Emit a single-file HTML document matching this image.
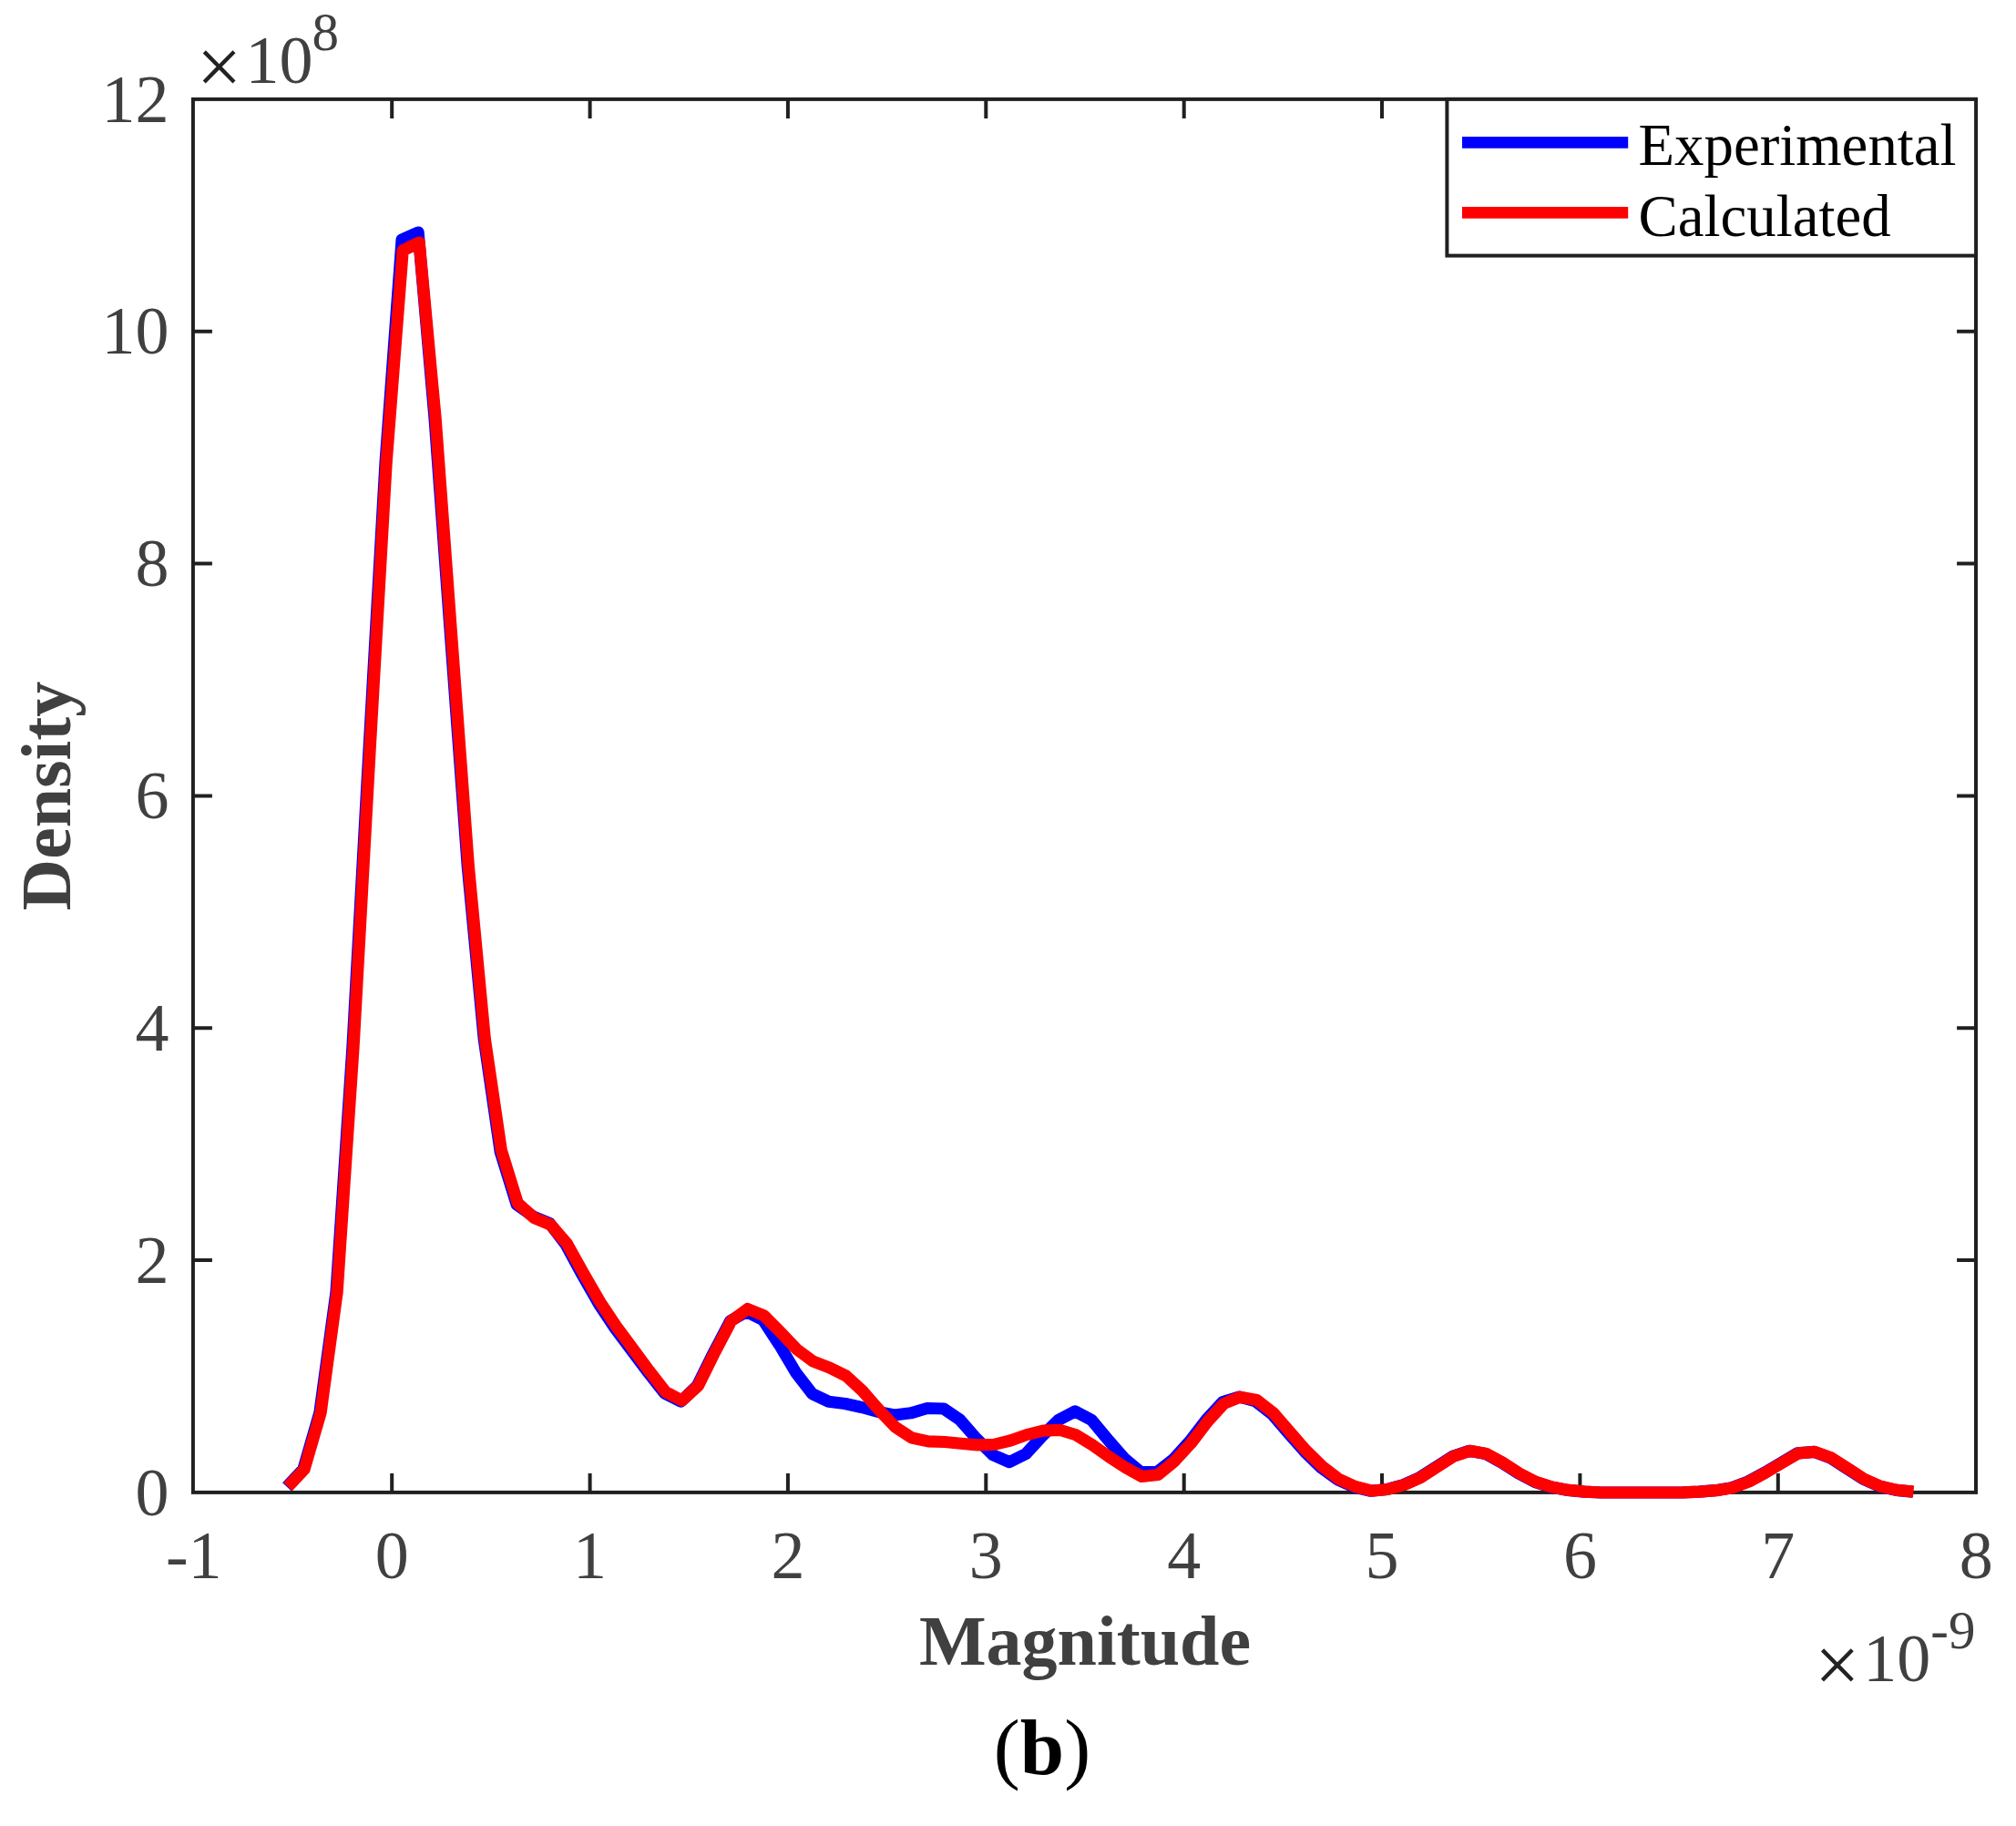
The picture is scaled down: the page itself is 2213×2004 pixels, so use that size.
<!DOCTYPE html>
<html><head><meta charset="utf-8"><title>Density plot (b)</title>
<style>html,body{margin:0;padding:0;background:#fff}svg{display:block}text{font-family:"Liberation Serif",serif}</style></head><body>
<svg width="2213" height="2004" viewBox="0 0 2213 2004">
<rect width="2213" height="2004" fill="#fff"/>
<rect x="211.9" y="108.9" width="1957.1" height="1529.0" fill="none" stroke="#202020" stroke-width="4"/>
<path d="M430.2,1637.9 v-21 M430.2,108.9 v21 M647.6,1637.9 v-21 M647.6,108.9 v21 M864.9,1637.9 v-21 M864.9,108.9 v21 M1082.3,1637.9 v-21 M1082.3,108.9 v21 M1299.7,1637.9 v-21 M1299.7,108.9 v21 M1517.0,1637.9 v-21 M1517.0,108.9 v21 M1734.4,1637.9 v-21 M1734.4,108.9 v21 M1951.8,1637.9 v-21 M1951.8,108.9 v21 M211.9,1383.1 h21 M2169.1,1383.1 h-21 M211.9,1128.2 h21 M2169.1,1128.2 h-21 M211.9,873.4 h21 M2169.1,873.4 h-21 M211.9,618.6 h21 M2169.1,618.6 h-21 M211.9,363.7 h21 M2169.1,363.7 h-21" fill="none" stroke="#202020" stroke-width="4"/>
<path d="M314.9,1631.8 L332.9,1612.6 L350.9,1550.3 L369.0,1418.0 L387.0,1148.0 L405.0,823.0 L423.0,508.0 L441.1,263.0 L459.1,255.0 L477.1,460.0 L495.1,705.0 L513.2,950.0 L531.2,1140.0 L549.2,1264.0 L567.2,1322.0 L585.3,1335.0 L603.3,1342.5 L621.3,1366.0 L639.4,1399.5 L657.4,1431.0 L675.4,1458.0 L693.4,1482.0 L711.4,1506.0 L729.5,1529.0 L747.5,1538.0 L765.5,1520.7 L783.5,1484.2 L801.6,1449.7 L819.6,1439.5 L837.6,1448.7 L855.6,1476.0 L873.7,1506.5 L891.7,1529.7 L909.7,1538.2 L927.7,1540.5 L945.8,1544.5 L963.8,1549.4 L981.8,1553.0 L999.8,1550.8 L1017.9,1545.5 L1035.9,1546.0 L1053.9,1558.3 L1072.0,1579.0 L1090.0,1596.7 L1108.0,1604.6 L1126.0,1595.7 L1144.1,1576.0 L1162.1,1558.3 L1180.1,1548.8 L1198.1,1558.3 L1216.2,1580.0 L1234.2,1600.7 L1252.2,1615.5 L1270.2,1615.5 L1288.2,1601.5 L1306.3,1581.5 L1324.3,1558.0 L1342.3,1538.5 L1360.3,1533.0 L1378.4,1538.0 L1396.4,1552.0 L1414.4,1573.0 L1432.5,1593.5 L1450.5,1611.0 L1468.5,1624.0 L1486.5,1632.0 L1504.5,1636.2 L1522.6,1634.5 L1540.6,1629.5 L1558.6,1621.4 L1576.7,1609.8 L1594.7,1598.2 L1612.7,1592.3 L1630.7,1595.5 L1648.8,1605.4 L1666.8,1617.0 L1684.8,1626.4 L1702.8,1632.1 L1720.8,1635.4 L1738.9,1637.1 L1756.9,1638.0 L1774.9,1638.0 L1793.0,1638.0 L1811.0,1638.0 L1829.0,1638.0 L1847.0,1637.9 L1865.0,1637.1 L1883.1,1635.7 L1901.1,1632.7 L1919.1,1625.9 L1937.1,1616.1 L1955.2,1605.4 L1973.2,1594.8 L1991.2,1593.4 L2009.2,1600.0 L2027.3,1611.6 L2045.3,1623.2 L2063.3,1631.2 L2081.3,1635.4 L2099.4,1637.1" fill="none" stroke="#0000ff" stroke-width="13.2" stroke-linejoin="round" stroke-linecap="butt"/>
<path d="M316.0,1631.8 L334.0,1612.6 L352.1,1550.3 L370.1,1418.0 L388.1,1148.0 L406.1,823.0 L424.1,508.0 L442.2,275.0 L460.2,266.0 L478.2,460.0 L496.2,705.0 L514.3,950.0 L532.3,1140.0 L550.3,1262.4 L568.3,1320.5 L586.4,1336.7 L604.4,1344.2 L622.4,1364.9 L640.5,1397.4 L658.5,1428.6 L676.5,1455.6 L694.5,1479.9 L712.5,1504.3 L730.6,1527.6 L748.6,1537.0 L766.6,1520.7 L784.6,1484.2 L802.7,1449.7 L820.7,1436.5 L838.7,1443.8 L856.8,1462.2 L874.8,1481.0 L892.8,1494.2 L910.8,1501.1 L928.8,1510.0 L946.9,1526.7 L964.9,1547.4 L982.9,1566.2 L1000.9,1578.0 L1019.0,1581.9 L1037.0,1582.5 L1055.0,1584.3 L1073.0,1585.9 L1091.1,1585.3 L1109.1,1581.0 L1127.1,1574.6 L1145.2,1570.1 L1163.2,1569.3 L1181.2,1574.8 L1199.2,1585.9 L1217.2,1598.7 L1235.3,1610.5 L1253.3,1620.5 L1271.3,1618.5 L1289.3,1603.6 L1307.4,1583.9 L1325.4,1560.3 L1343.4,1540.5 L1361.4,1533.2 L1379.5,1536.6 L1397.5,1550.4 L1415.5,1571.1 L1433.5,1591.8 L1451.6,1609.5 L1469.6,1623.3 L1487.6,1631.5 L1505.6,1636.2 L1523.7,1634.5 L1541.7,1629.5 L1559.7,1621.4 L1577.8,1609.8 L1595.8,1598.2 L1613.8,1592.3 L1631.8,1595.5 L1649.8,1605.4 L1667.9,1617.0 L1685.9,1626.4 L1703.9,1632.1 L1721.9,1635.4 L1740.0,1637.1 L1758.0,1638.0 L1776.0,1638.0 L1794.0,1638.0 L1812.1,1638.0 L1830.1,1638.0 L1848.1,1637.9 L1866.1,1637.1 L1884.2,1635.7 L1902.2,1632.7 L1920.2,1625.9 L1938.2,1616.1 L1956.3,1605.4 L1974.3,1594.8 L1992.3,1593.4 L2010.3,1600.0 L2028.4,1611.6 L2046.4,1623.2 L2064.4,1631.2 L2082.4,1635.4 L2100.5,1637.1" fill="none" stroke="#ff0000" stroke-width="13.2" stroke-linejoin="round" stroke-linecap="butt"/>
<g font-size="74" fill="#404040" text-anchor="middle">
<text x="212.8" y="1732.2">-1</text>
<text x="430.2" y="1732.2">0</text>
<text x="647.6" y="1732.2">1</text>
<text x="864.9" y="1732.2">2</text>
<text x="1082.3" y="1732.2">3</text>
<text x="1299.7" y="1732.2">4</text>
<text x="1517.0" y="1732.2">5</text>
<text x="1734.4" y="1732.2">6</text>
<text x="1951.8" y="1732.2">7</text>
<text x="2169.2" y="1732.2">8</text>
</g>
<g font-size="74" fill="#404040" text-anchor="end">
<text x="185.5" y="1662.6">0</text>
<text x="185.5" y="1407.8">2</text>
<text x="185.5" y="1152.9">4</text>
<text x="185.5" y="898.1">6</text>
<text x="185.5" y="643.3">8</text>
<text x="185.5" y="388.4">10</text>
<text x="185.5" y="133.6">12</text>
</g>
<text x="215.8" y="102.5" font-size="88" fill="#222">×</text>
<text x="269.5" y="91.3" font-size="74" fill="#404040">10</text>
<text x="342.5" y="54.6" font-size="59" fill="#404040">8</text>
<text x="1991.9" y="1856.7" font-size="88" fill="#222">×</text>
<text x="2045.3" y="1845.2" font-size="74" fill="#404040">10</text>
<text x="2119.3" y="1808.8" font-size="59" fill="#404040">-9</text>
<text x="1191" y="1827.2" font-size="78" font-weight="bold" fill="#404040" text-anchor="middle">Magnitude</text>
<text transform="translate(77,873.5) rotate(-90)" font-size="78" font-weight="bold" fill="#404040" text-anchor="middle">Density</text>
<text x="1144" y="1946.5" font-size="87" fill="#000" text-anchor="middle">(<tspan font-weight="bold">b</tspan>)</text>
<rect x="1588.4" y="108.9" width="580.7" height="171.7" fill="#fff" stroke="#202020" stroke-width="4"/>
<path d="M1605,156.4 H1787.2" stroke="#0000ff" stroke-width="12.8"/>
<path d="M1605,233.4 H1787.2" stroke="#ff0000" stroke-width="12.8"/>
<text x="1798.5" y="180.6" font-size="64.8" fill="#000">Experimental</text>
<text x="1798.5" y="258.7" font-size="64.8" fill="#000">Calculated</text>
</svg></body></html>
